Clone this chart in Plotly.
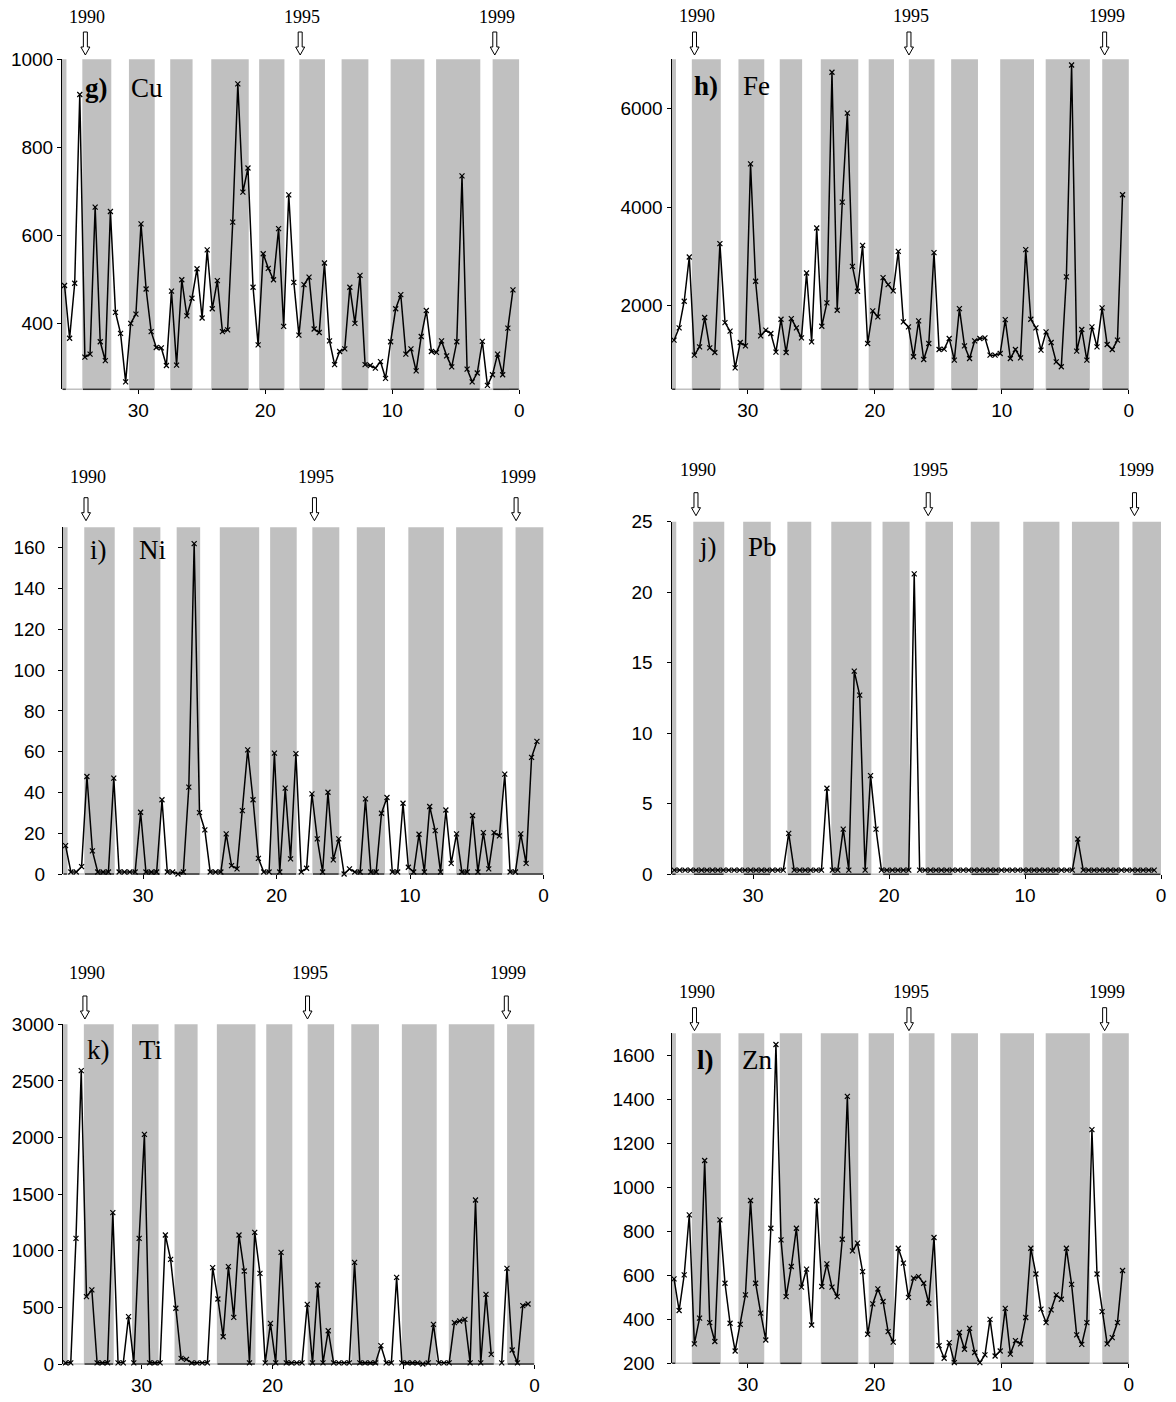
import plotly.graph_objects as go

W, H = 1176, 1402

# sample positions along the x axis (shared by all panels)
sample_pos = [35.80, 35.40, 35.00, 34.60, 34.20, 33.79, 33.39, 32.99, 32.59, 32.19,
              31.79, 31.39, 30.99, 30.59, 30.18, 29.78, 29.38, 28.98, 28.58, 28.18,
              27.78, 27.38, 26.98, 26.57, 26.17, 25.77, 25.37, 24.97, 24.57, 24.17,
              23.77, 23.37, 22.96, 22.56, 22.16, 21.76, 21.36, 20.96, 20.56, 20.16,
              19.76, 19.35, 18.95, 18.55, 18.15, 17.75, 17.35, 16.95, 16.55, 16.15,
              15.75, 15.34, 14.94, 14.54, 14.14, 13.74, 13.34, 12.94, 12.54, 12.14,
              11.73, 11.33, 10.93, 10.53, 10.13, 9.73, 9.33, 8.93, 8.53, 8.12,
              7.72, 7.32, 6.92, 6.52, 6.12, 5.72, 5.32, 4.92, 4.51, 4.11,
              3.71, 3.31, 2.91, 2.51, 2.11, 1.71, 1.31, 0.90, 0.50]

cu = [486, 366, 491, 920, 323, 330, 664, 358, 315, 654,
      425, 377, 267, 400, 421, 626, 478, 381, 345, 344,
      304, 473, 305, 499, 417, 457, 524, 412, 567, 433,
      497, 381, 385, 630, 944, 698, 753, 482, 351, 558,
      525, 499, 615, 393, 692, 493, 373, 488, 505, 387,
      379, 537, 360, 306, 336, 342, 482, 400, 509, 306,
      304, 298, 313, 275, 358, 433, 465, 330, 342, 292,
      370, 429, 336, 334, 360, 326, 301, 358, 735, 296,
      267, 287, 359, 259, 283, 330, 283, 389, 476]

fe = [1297, 1547, 2088, 2987, 993, 1162, 1757, 1142, 1047, 3257,
      1655, 1480, 736, 1250, 1182, 4878, 2493, 1385, 1500, 1432,
      1054, 1723, 1047, 1736, 1547, 1345, 2662, 1263, 3574, 1581,
      2054, 6737, 1905, 4101, 5906, 2797, 2291, 3223, 1230, 1892,
      1770, 2568, 2426, 2297, 3101, 1669, 1568, 960, 1689, 905,
      1230, 3074, 1108, 1115, 1331, 892, 1939, 1182, 926, 1284,
      1331, 1345, 993, 993, 1027, 1716, 926, 1108, 939, 3135,
      1723, 1547, 1095, 1466, 1250, 858, 757, 2581, 6885, 1074,
      1514, 892, 1568, 1162, 1953, 1209, 1108, 1297, 4250]

ni = [13.9, 1, 1, 3.6, 47.8, 11.3, 1, 1, 1, 47,
      1, 1, 1, 1, 30.3, 1, 1, 1, 36.4, 1,
      1, 0, 1, 42.6, 162, 30.1, 21.6, 1, 1, 1,
      19.7, 4.1, 2.5, 31.1, 60.9, 36.4, 7.7, 1, 1, 59.3,
      1, 42.1, 7.4, 59, 1, 2.8, 39.3, 17.2, 1, 40.1,
      6.9, 17.2, 0, 2.5, 1, 1, 36.8, 1, 1, 29.8,
      37.5, 1, 1, 34.7, 3.3, 1, 19.5, 1, 33.1, 21.3,
      1, 31.4, 5.2, 19.7, 1, 1, 28.7, 1, 20.3, 2.5,
      20.3, 18.7, 49, 1, 1, 19.7, 5.2, 57.2, 65]

pb = [0.3, 0.3, 0.3, 0.3, 0.3, 0.3, 0.3, 0.3, 0.3, 0.3,
      0.3, 0.3, 0.3, 0.3, 0.3, 0.3, 0.3, 0.3, 0.3, 0.3,
      0.3, 2.9, 0.3, 0.3, 0.3, 0.3, 0.3, 0.3, 6.1, 0.3,
      0.3, 3.2, 0.3, 14.4, 12.7, 0.3, 7.0, 3.2, 0.3, 0.3,
      0.3, 0.3, 0.3, 0.3, 21.3, 0.3, 0.3, 0.3, 0.3, 0.3,
      0.3, 0.3, 0.3, 0.3, 0.3, 0.3, 0.3, 0.3, 0.3, 0.3,
      0.3, 0.3, 0.3, 0.3, 0.3, 0.3, 0.3, 0.3, 0.3, 0.3,
      0.3, 0.3, 0.3, 0.3, 2.5, 0.3, 0.3, 0.3, 0.3, 0.3,
      0.3, 0.3, 0.3, 0.3, 0.3, 0.3, 0.3, 0.3, 0.3]

ti = [10, 10, 1110, 2591, 595, 654, 10, 10, 10, 1337,
      10, 10, 418, 10, 1110, 2028, 10, 10, 10, 1139,
      924, 492, 50, 41, 10, 10, 10, 10, 851, 574,
      241, 860, 412, 1139, 821, 10, 1163, 801, 10, 359,
      10, 986, 10, 10, 10, 10, 527, 10, 698, 10,
      294, 10, 10, 10, 10, 898, 10, 10, 10, 10,
      162, 10, 10, 765, 10, 10, 10, 10, 0, 10,
      350, 10, 10, 10, 365, 380, 394, 10, 1448, 10,
      615, 85, None, 10, 845, 124, 10, 515, 530]

zn = [584, 440, 602, 875, 288, 405, 1122, 385, 299, 852,
      564, 382, 256, 377, 511, 940, 564, 428, 306, 814,
      1649, 761, 503, 640, 814, 546, 628, 374, 939, 549,
      652, 546, 503, 764, 1413, 711, 746, 617, 332, 470,
      538, 481, 344, 296, 723, 655, 500, 587, 594, 564,
      473, 772, 280, 223, 294, 203, 340, 264, 359, 249,
      203, 238, 400, 233, 256, 450, 242, 303, 288, 408,
      723, 606, 446, 385, 443, 511, 491, 723, 559, 329,
      286, 385, 1262, 606, 435, 288, 317, 385, 622]

# shaded periods (start, end) on the x axis
bands = [(36.0, 35.65), (34.4, 32.12), (30.73, 28.7), (27.48, 25.72),
         (24.25, 21.3), (20.48, 18.49), (17.32, 15.3), (13.99, 11.88),
         (10.13, 7.47), (6.55, 3.07), (2.1, 0.0)]

years = ["1990", "1995", "1999"]
x_ticks = [30, 20, 10, 0]
x_tick_text = ["30", "20", "10", "0"]

# ---- styles / layout (pixel boxes: left, right, top, bottom) ----
panels = [
    dict(vals=cu, letter="g)", bold=True, name="Cu", yr=[250, 1000], yt=[400, 600, 800, 1000],
         box=(62, 519.3, 59.3, 389.3), arrows=[34.16, 17.25, 1.93], agap=4.3, tgap=42.6,
         lab=29, ystand=0),
    dict(vals=fe, letter="h)", bold=True, name="Fe", yr=[300, 7000], yt=[2000, 4000, 6000],
         box=(671.5, 1128.9, 59.3, 389.3), arrows=[34.19, 17.31, 1.91], agap=4.3, tgap=43.6,
         lab=26.7, ystand=0),
    dict(vals=ni, letter="i)", bold=False, name="Ni", yr=[0, 170], yt=list(range(0, 161, 20)),
         box=(62.9, 543.6, 527.3, 874), arrows=[34.27, 17.16, 2.06], agap=6.6, tgap=50.6,
         lab=22.7, ystand=9),
    dict(vals=pb, letter="j)", bold=False, name="Pb", yr=[0, 25], yt=[0, 5, 10, 15, 20, 25],
         box=(671.5, 1161, 521.7, 874.3), arrows=[34.2, 17.12, 1.95], agap=6, tgap=51.7,
         lab=25, ystand=10),
    dict(vals=ti, letter="k)", bold=False, name="Ti", yr=[0, 3000], yt=list(range(0, 3001, 500)),
         box=(62.9, 534.6, 1024.3, 1364), arrows=[34.32, 17.33, 2.16], agap=5.3, tgap=51,
         lab=25.7, ystand=0),
    dict(vals=zn, letter="l)", bold=True, name="Zn", yr=[200, 1700], yt=list(range(200, 1601, 200)),
         box=(671.5, 1128.9, 1033.3, 1363.3), arrows=[34.19, 17.31, 1.91], agap=2.6, tgap=41.6,
         lab=26.7, ystand=8),
]

BAND = "#c0c0c0"
SANS = "Liberation Sans, Arial, sans-serif"
SERIF = "Liberation Serif, Times New Roman, serif"
XMAX = 36.0

fig = go.Figure()
layout = dict(width=W, height=H, margin=dict(l=0, r=0, t=0, b=0, autoexpand=False),
              paper_bgcolor="white", plot_bgcolor="white", showlegend=False)
shapes = []
annotations = []

for k, p in enumerate(panels, start=1):
    xs = "" if k == 1 else str(k)
    xname, yname = "x" + xs, "y" + xs
    l, r, t, b = p["box"]
    layout["xaxis" + xs] = dict(
        domain=[l / W, r / W], range=[XMAX, 0], anchor=yname, automargin=False,
        tickvals=x_ticks, ticktext=x_tick_text, ticks="outside", ticklen=4,
        tickcolor="black", tickwidth=1, showline=False, showgrid=False, zeroline=False,
        tickfont=dict(family=SANS, size=19, color="black"))
    layout["yaxis" + xs] = dict(
        domain=[1 - b / H, 1 - t / H], range=p["yr"], anchor=xname, automargin=False,
        tickvals=p["yt"], ticks="outside", ticklen=4, tickcolor="black", tickwidth=1,
        showline=True, linecolor="black", linewidth=1, showgrid=False, zeroline=False,
        tickfont=dict(family=SANS, size=19, color="black"), ticklabelstandoff=p["ystand"])

    # light baseline
    shapes.append(dict(type="line", xref=xname + " domain", yref=yname + " domain",
                       x0=0, x1=1, y0=0, y1=0, line=dict(color=BAND, width=1.5), layer="below"))
    # grey bands
    for (a, c) in bands:
        shapes.append(dict(type="rect", xref=xname, yref=yname + " domain",
                           x0=a, x1=c, y0=0, y1=1, fillcolor=BAND, line=dict(width=0),
                           layer="below"))
    for (a, c) in bands:
        shapes.append(dict(type="line", xref=xname, yref=yname + " domain",
                           x0=a - 0.05, x1=c + 0.05, y0=0, y1=0,
                           line=dict(color="#303030", width=1.5), layer="below"))

    # year arrows (hollow) and labels
    g = p["agap"]
    for xa, yr_lbl in zip(p["arrows"], years):
        path = (f"M -2,{g+23} L 2,{g+23} L 2,{g+8} L 4.5,{g+8} L 0,{g} "
                f"L -4.5,{g+8} L -2,{g+8} Z")
        shapes.append(dict(type="path", xref=xname + " domain", yref=yname + " domain",
                           xsizemode="pixel", ysizemode="pixel",
                           xanchor=(XMAX - xa) / XMAX, yanchor=1, path=path,
                           fillcolor="white", line=dict(color="black", width=1), layer="above"))
        annotations.append(dict(xref=xname, yref=yname + " domain", x=xa, y=1,
                                xshift=2, yshift=p["tgap"], text=yr_lbl, showarrow=False,
                                xanchor="center", yanchor="middle",
                                font=dict(family=SERIF, size=18, color="black")))

    # panel labels
    letter = f"<b>{p['letter']}</b>" if p["bold"] else p["letter"]
    annotations.append(dict(xref=xname, yref=yname + " domain", x=33.3, y=1, yshift=-p["lab"],
                            text=letter, showarrow=False, xanchor="center", yanchor="middle",
                            font=dict(family=SERIF, size=27, color="black")))
    annotations.append(dict(xref=xname, yref=yname + " domain", x=29.3, y=1, yshift=-p["lab"],
                            text=p["name"], showarrow=False, xanchor="center", yanchor="middle",
                            font=dict(family=SERIF, size=27, color="black")))

    fig.add_trace(go.Scatter(
        x=sample_pos, y=p["vals"], xaxis=xname, yaxis=yname, mode="lines+markers",
        line=dict(color="black", width=1.5), connectgaps=False, cliponaxis=False,
        marker=dict(symbol="x-thin", size=5, line=dict(color="black", width=1.2)),
        hoverinfo="skip"))

layout["shapes"] = shapes
layout["annotations"] = annotations
fig.update_layout(**layout)
fig.write_html("out.html", config={"displayModeBar": False},
               post_script="document.body.style.margin='0';document.body.style.overflow='hidden';")
